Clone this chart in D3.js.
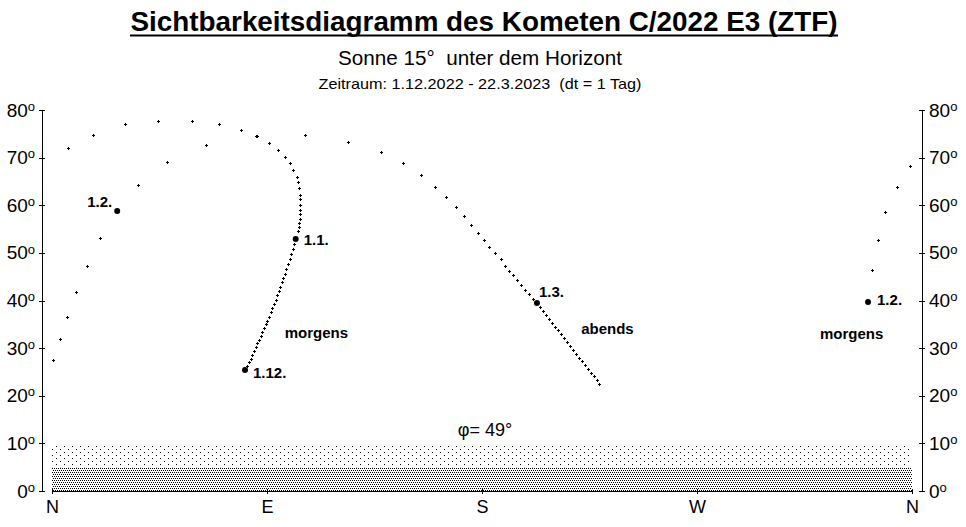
<!DOCTYPE html>
<html><head><meta charset="utf-8">
<script src="https://cdn.jsdelivr.net/npm/d3@7"></script>
<style>
body{margin:0;background:#fff}
text{font-family:Arial,"Liberation Sans",sans-serif;fill:#000}
</style>
</head><body>
<svg id="c" width="966" height="527"></svg>
<script>
// ---------- data ----------
const altTicks = [0,10,20,30,40,50,60,70,80];
const dirAz = [0,90,180,270,360];
const dirLabels = ["N","E","S","W","N"];

// morning track, 1.12.2022 -> 1.2.2023 (azimuth, altitude in degrees)
const morningAz = [80.8,81.6,82.3,83.1,83.8,84.6,85.3,86.0,86.7,87.4,88.1,88.8,89.4,90.1,90.8,91.5,92.2,92.9,93.6,94.2,94.9,95.5,96.2,96.8,97.4,98.1,98.8,99.5,100.1,100.7,101.3,102.0,
  103.0,103.4,103.4,103.8,103.8,103.8,103.8,103.8,103.8,103.4,103.0,102.6,100.9,99.6,97.5,94.6,90.8,85.4,79.1,69.9,58.6,44.4,30.6,17.2,6.7,
  359.2,353.7,348.7,345.8,343.3,341.6];
const morningAlt = [25.4,26.2,27.0,27.8,28.6,29.4,30.2,31.0,31.8,32.6,33.4,34.2,35.0,35.8,36.6,37.5,38.4,39.3,40.2,41.1,42.0,42.9,43.8,44.7,45.6,46.6,47.6,48.7,49.7,50.8,51.8,52.9,
  54.6,55.4,56.3,57.1,58.2,59.0,60.1,61.3,62.2,63.6,64.9,65.9,67.4,68.9,70.1,71.6,73.1,74.5,75.8,77.1,77.7,77.7,77.1,74.8,72.0,
  68.2,63.8,58.6,52.7,46.4,39.7];

// evening track, 26.1.2023 -> 22.3.2023
const eveningAz = [0.5,3.3,6.4,10.2,14.5,20.2,27.3,
  36.1,48.3,64.5,85.8,105.9,123.9,137.7,146.9,154.5,160.3,164.9,169.1,172.5,175.4,178.3,180.8,182.9,185.4,187.9,189.6,191.3,193.0,194.7,196.3,198.0,199.7,201.3,203.0,
  204.3,205.5,206.8,208.0,209.3,210.6,211.8,213.1,214.3,215.6,216.8,218.1,219.3,220.6,221.9,223.1,224.4,225.6,226.9,228.1,229.0];
const eveningAlt = [27.5,31.9,36.5,41.7,47.2,53.1,58.8,
  64.2,69.0,72.7,74.6,74.8,73.3,71.2,68.9,66.4,63.8,61.7,59.6,57.7,55.9,54.2,52.7,51.2,50.0,48.7,47.2,46.2,45.4,44.3,43.3,42.2,41.4,40.3,39.5,
  38.6,37.8,37.0,36.1,35.3,34.4,33.8,33.0,32.1,31.3,30.4,29.6,28.8,27.9,27.3,26.5,25.6,24.8,24.1,23.3,22.5];

// dated points: [track, index, label]
const datedTrack = ["m","m","m","e","e"];
const datedIndex = [0,31,62,6,34];
const datedLabel = ["1.12.","1.1.","1.2.","1.2.","1.3."];

const titleText = "Sichtbarkeitsdiagramm des Kometen C/2022 E3 (ZTF)";
const subText = "Sonne 15°  unter dem Horizont";
const rangeText = "Zeitraum: 1.12.2022 - 22.3.2023  (dt = 1 Tag)";
const latText = "φ= 49°";
const periodLabels = ["morgens","abends","morgens"];

// ---------- drawing ----------
const svg = d3.select("#c");
const x = d3.scaleLinear().domain([0,360]).range([52,912]);
const y = d3.scaleLinear().domain([0,80]).range([491,110]);

// patterns
const defs = svg.append("defs");
const pl = defs.append("pattern").attr("id","light").attr("patternUnits","userSpaceOnUse")
  .attr("width",8).attr("height",6).attr("x",0).attr("y",2);
pl.append("rect").attr("x",0).attr("y",0).attr("width",1).attr("height",1).attr("fill","#000");
pl.append("rect").attr("x",4).attr("y",3).attr("width",1).attr("height",1).attr("fill","#000");
const pd = defs.append("pattern").attr("id","dense").attr("patternUnits","userSpaceOnUse")
  .attr("width",4).attr("height",4);
[[0,0],[2,0],[1,2],[3,2]].forEach(p=>pd.append("rect").attr("x",p[0]).attr("y",p[1]).attr("width",1).attr("height",1).attr("fill","#000"));

svg.append("rect").attr("x",x(0)).attr("width",x(360)-x(0))
  .attr("y",y(9.5)).attr("height",y(5)-y(9.5)).attr("fill","url(#light)");
svg.append("rect").attr("x",x(0)).attr("width",x(360)-x(0))
  .attr("y",y(5)).attr("height",y(0)-y(5)).attr("fill","url(#dense)");

// titles
svg.append("text").attr("x",484).attr("y",31).attr("text-anchor","middle")
  .style("font-size","28px").style("font-weight","bold").text(titleText)
  .attr("textLength",707).attr("lengthAdjust","spacingAndGlyphs");
svg.append("line").attr("x1",130).attr("x2",838).attr("y1",35.5).attr("y2",35.5)
  .attr("stroke","#000").attr("stroke-width",2);
svg.append("text").attr("x",480).attr("y",65).attr("text-anchor","middle").style("white-space","pre")
  .style("font-size","20px").text(subText).attr("textLength",284).attr("lengthAdjust","spacingAndGlyphs");
svg.append("text").attr("x",480).attr("y",89).attr("text-anchor","middle").style("white-space","pre")
  .style("font-size","15px").text(rangeText).attr("textLength",323).attr("lengthAdjust","spacingAndGlyphs");

// axes
function degLabel(sel){
  sel.selectAll(".tick text").each(function(d){
    const t = d3.select(this); t.text(null);
    t.append("tspan").text(d);
    t.append("tspan").attr("dy","-0.45em").style("font-size","13px").text("o");
  });
}
const yl = svg.append("g").attr("transform","translate(42,0)")
  .call(d3.axisLeft(y).tickValues(altTicks).tickSizeInner(3).tickSizeOuter(0).tickPadding(3));
const yr = svg.append("g").attr("transform","translate(922,0)")
  .call(d3.axisRight(y).tickValues(altTicks).tickSizeInner(3).tickSizeOuter(0).tickPadding(4));
[yl,yr].forEach(g=>{
  g.select(".domain").attr("stroke","#000").attr("shape-rendering","crispEdges");
  g.selectAll(".tick line").attr("stroke","#000").attr("x1",-3).attr("x2",3).attr("shape-rendering","crispEdges");
  g.selectAll(".tick text").style("font-size","19px").attr("fill","#000");
  g.attr("font-size",null).attr("font-family",null);
  degLabel(g);
});
yl.selectAll(".tick text").attr("dx","-1");
const xb = svg.append("g").attr("transform","translate(0,491)")
  .call(d3.axisBottom(x).tickValues(dirAz).tickFormat((d,i)=>dirLabels[i]).tickSizeInner(3).tickSizeOuter(0).tickPadding(6));
xb.attr("font-size",null).attr("font-family",null);
xb.select(".domain").attr("stroke","#000").attr("shape-rendering","crispEdges");
xb.selectAll(".tick line").attr("stroke","#000").attr("y1",-2).attr("y2",3).attr("shape-rendering","crispEdges");
xb.selectAll(".tick text").style("font-size","18px").attr("fill","#000");

// tracks: small 3x3 "+" markers
function plus(az,alt){
  const cx = Math.round(x(az)), cy = Math.round(y(alt));
  return `M${cx-1},${cy+0.5}H${cx+2}M${cx+0.5},${cy-1}V${cy+2}`;
}
const g = svg.append("g");
g.append("path").attr("d",morningAz.map((a,i)=>plus(a,morningAlt[i])).join(""))
  .attr("stroke","#000").attr("stroke-width",1).attr("fill","none").attr("shape-rendering","crispEdges");
g.append("path").attr("d",eveningAz.map((a,i)=>plus(a,eveningAlt[i])).join(""))
  .attr("stroke","#000").attr("stroke-width",1).attr("fill","none").attr("shape-rendering","crispEdges");

// dated points
const labOff = {"m0":[8,8,"start"],"m31":[8,6,"start"],"m62":[9,3,"start"],"e6":[-5,-4,"end"],"e34":[2,-6,"start"]};
datedLabel.forEach((lab,i)=>{
  const tr = datedTrack[i], k = datedIndex[i];
  const az = tr==="m"?morningAz[k]:eveningAz[k];
  const al = tr==="m"?morningAlt[k]:eveningAlt[k];
  const cx = x(az), cy = y(al);
  svg.append("circle").attr("cx",cx).attr("cy",cy).attr("r",3).attr("fill","#000");
  const o = labOff[tr+k];
  svg.append("text").attr("x",cx+o[0]).attr("y",cy+o[1]).attr("text-anchor",o[2])
    .style("font-size","15px").style("font-weight","bold").text(lab);
});

// period labels
const perPos = [[110.7,32.2],[232.5,33.0],[334.7,32.0]];
periodLabels.forEach((t,i)=>{
  svg.append("text").attr("x",x(perPos[i][0])).attr("y",y(perPos[i][1])).attr("text-anchor","middle")
    .style("font-size","15px").style("font-weight","bold").text(t);
});
svg.append("text").attr("x",485).attr("y",436).attr("text-anchor","middle")
  .style("font-size","18px").text(latText);
</script>
</body></html>
